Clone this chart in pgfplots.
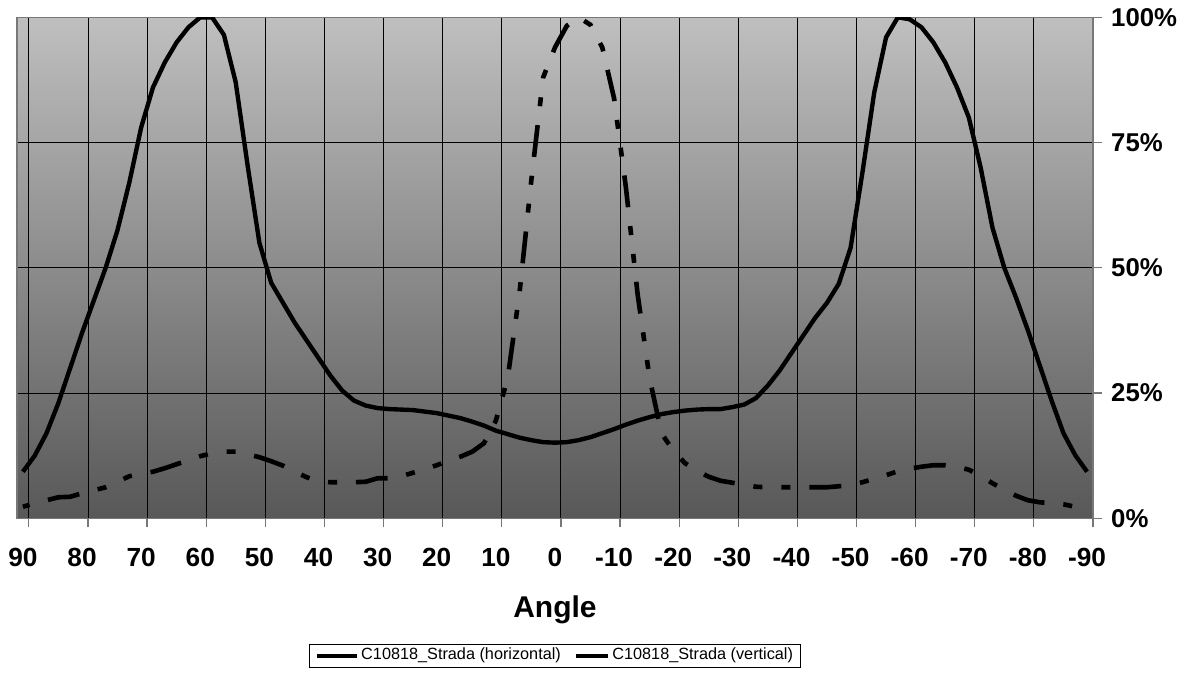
\documentclass[border=0pt]{standalone}
\usepackage{pgfplots}
\pgfplotsset{compat=1.18}
\usepackage{fontspec}
\setmainfont{Liberation Sans}
\definecolor{bgtop}{RGB}{191,191,191}
\definecolor{bgbot}{RGB}{88,88,88}
\definecolor{framegray}{RGB}{120,120,120}
\pgfplotstableread{
a v
90 9.3
88 12.5
86 17
84 23
82 30
80 37
78 43.5
76 50
74 57.5
72 67
70 78
68 86
66 91
64 95
62 98
60 100
58 100
56 96.5
54 87
52 70.5
50 55
48 47
46 43
44 39
42 35.5
40 32
38 28.5
36 25.5
34 23.5
32 22.5
30 22
28 21.8
26 21.7
24 21.6
22 21.3
20 21
18 20.5
16 20
14 19.3
12 18.5
10 17.5
8 16.8
6 16.1
4 15.6
2 15.2
0 15.1
-2 15.2
-4 15.6
-6 16.2
-8 17
-10 17.8
-12 18.7
-14 19.5
-16 20.2
-18 20.8
-20 21.2
-22 21.5
-24 21.7
-26 21.8
-28 21.8
-30 22.2
-32 22.7
-34 24
-36 26.5
-38 29.5
-40 33
-42 36.5
-44 40
-46 43
-48 46.8
-50 54
-52 69
-54 85
-56 96
-58 100
-60 99.6
-62 98
-64 95
-66 91
-68 86
-70 80
-72 70
-74 58
-76 50
-78 44
-80 37.5
-82 30.5
-84 23.5
-86 17
-88 12.6
-90 9.3
}\tabH
\pgfplotstableread{
a v
90 2.3
88 3
86 3.6
84 4.2
82 4.3
80 5
78 5.6
76 6.2
74 7.3
72 8.4
70 8.9
68 9.3
66 10
64 10.8
62 11.6
60 12.4
58 13
56 13.3
54 13.3
52 12.8
50 12.2
48 11.4
46 10.5
44 9.3
42 8.2
40 7.4
38 7.2
36 7.2
34 7.2
32 7.3
30 8
28 8
26 8.4
24 9.1
22 9.8
20 10.6
18 11.5
16 12.3
14 13.3
12 15
10 19.5
8 28
6 45
4 67.5
2 88
0 94
-2 98.3
-4 100
-6 98.5
-8 94
-10 83.8
-12 66
-14 44.5
-16 28
-18 17
-20 13.5
-22 11
-24 9.5
-26 8.3
-28 7.5
-30 7.1
-32 6.7
-34 6.3
-36 6.2
-38 6.2
-40 6.2
-42 6.2
-44 6.2
-46 6.2
-48 6.4
-50 6.6
-52 7.2
-54 7.9
-56 8.6
-58 9.4
-60 9.9
-62 10.3
-64 10.6
-66 10.6
-68 10.3
-70 9.7
-72 8.5
-74 7
-76 5.7
-78 4.5
-80 3.6
-82 3.2
-84 3
-86 2.8
-88 2.3
-90 2.2
}\tabV
\begin{document}
\begin{tikzpicture}
\useasboundingbox (0pt,0pt) rectangle (476pt,-268.8pt);
\begin{axis}[
  at={(6.8pt,-207.32pt)}, anchor=south west,
  width=430.4pt, height=200.4pt, scale only axis,
  x dir=reverse, xmin=-91, xmax=91, ymin=0, ymax=100,
  axis background/.style={shade, top color=bgtop, bottom color=bgbot},
  axis line style={draw=framegray, line width=0.56pt},
  xtick={-91,-81,...,89},
  xticklabels={-90,-80,-70,-60,-50,-40,-30,-20,-10,0,10,20,30,40,50,60,70,80,90},
  ytick={0,25,50,75,100}, yticklabels={0\%,25\%,50\%,75\%,100\%},
  xtick pos=bottom, ytick pos=right, yticklabel pos=right,
  tick align=outside, major tick length=3.6pt,
  tick style={draw=framegray, line width=0.48pt},
  grid=major, major grid style={draw=black, line width=0.34pt},
  x tick label style={font=\bfseries\fontsize{10.5}{12.5}\selectfont, inner sep=0pt, anchor=north, xshift=-2.365pt, yshift=-8pt},
  y tick label style={font=\bfseries\fontsize{10.3}{12.5}\selectfont, inner sep=0pt, anchor=west},
  yticklabel shift=3.5pt,
  xlabel={Angle},
  x label style={font=\bfseries\fontsize{12}{14}\selectfont, inner sep=0pt, at={(axis description cs:0.5,-0.153)}, anchor=north},
  legend columns=2,
  legend style={at={(0.5,-0.251)}, anchor=north, draw=black, line width=0.35pt, fill=white,
    font=\fontsize{6.5}{7.8}\selectfont, inner xsep=2pt, inner ysep=0.4pt,
    nodes={inner sep=1pt},
    /tikz/every even column/.append style={column sep=4pt}},
]
\addplot[black, line width=1.75pt, line join=round,
  legend image code/.code={\draw[black, solid, line width=1.72pt] (0pt,0pt) -- (16pt,0pt);}]
  table[x=a, y=v] {\tabH};
\addlegendentry{C10818\_Strada (horizontal)}
\addplot[black, line width=1.85pt, line cap=butt,
  dash pattern=on 12.8pt off 7.6pt on 3.6pt off 7.6pt on 3.6pt off 7.6pt, dash phase=32.4pt,
  legend image code/.code={\draw[black, solid, line width=1.8pt] (0pt,0pt) -- (12.8pt,0pt);}]
  table[x=a, y=v] {\tabV};
\addlegendentry{C10818\_Strada (vertical)}
\end{axis}
\end{tikzpicture}
\end{document}
